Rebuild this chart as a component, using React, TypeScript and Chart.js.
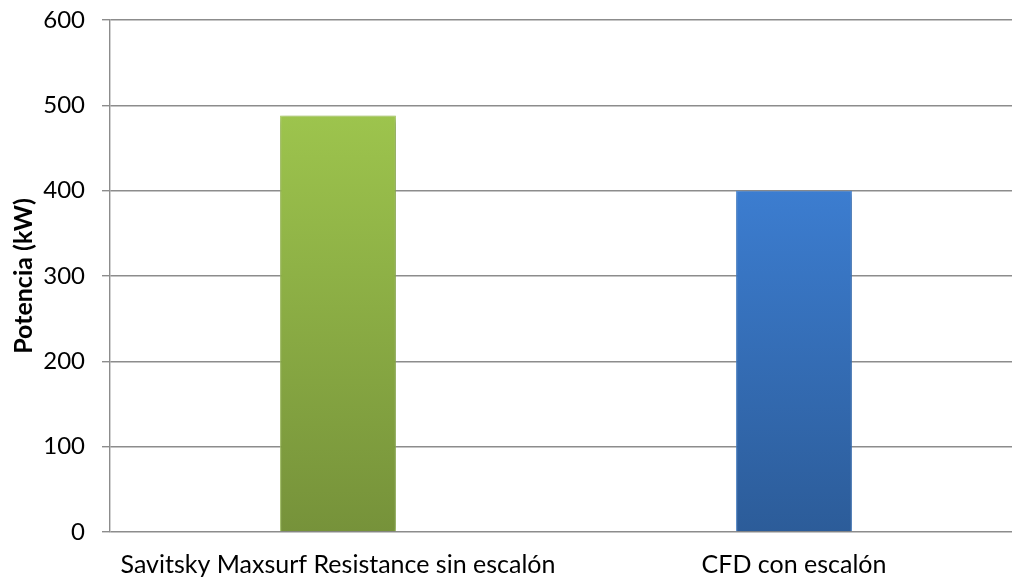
import React, { useEffect, useRef } from "react";
import { Chart, registerables } from "chart.js";

Chart.register(...registerables);

const categories = ["Savitsky Maxsurf Resistance sin escalón", "CFD con escalón"];
const values = [488, 400];
const yTicks = [0, 100, 200, 300, 400, 500, 600];
const topColors = ["#9dc44d", "#3c7dd0"];
const bottomColors = ["#76923a", "#2c5c99"];
const edgeColors = ["#abd062", "#4c8cdc"];

const shadowPlugin = {
  id: "barShadow",
  beforeDatasetsDraw(chart: any) {
    const ctx = chart.ctx;
    ctx.save();
    ctx.shadowColor = "rgba(0,0,0,0.35)";
    ctx.shadowBlur = 7;
    ctx.shadowOffsetX = 1;
    ctx.shadowOffsetY = 2;
  },
  afterDatasetsDraw(chart: any) {
    chart.ctx.restore();
  },
};

export default function App() {
  const ref = useRef<HTMLCanvasElement>(null);
  useEffect(() => {
    const canvas = ref.current!;
    const chart = new Chart(canvas, {
      type: "bar",
      data: {
        labels: categories,
        datasets: [
          {
            data: values,
            backgroundColor: (c: any) => {
              const ch = c.chart;
              const i = c.dataIndex;
              const ys = ch.scales?.y;
              if (!ch.chartArea || !ys || i === undefined) return topColors[i ?? 0];
              const top = ys.getPixelForValue(values[i]);
              const bot = ys.getPixelForValue(0);
              const g = ch.ctx.createLinearGradient(0, top, 0, bot);
              g.addColorStop(0, topColors[i]);
              g.addColorStop(1, bottomColors[i]);
              return g;
            },
            borderColor: edgeColors,
            borderWidth: 1,
            borderSkipped: "bottom",
            categoryPercentage: 1,
            barPercentage: 0.254,
          },
        ],
      },
      options: {
        responsive: true,
        maintainAspectRatio: false,
        animation: false,
        layout: { padding: { top: 20, left: 0, right: 0, bottom: 0 } },
        plugins: { legend: { display: false }, tooltip: { enabled: false } },
        scales: {
          x: {
            grid: { display: false, drawTicks: false },
            border: { display: false },
            ticks: {
              color: "#000",
              font: { family: "Lato", size: 25 },
              padding: 18,
              maxRotation: 0,
            },
            afterFit: (s: any) => {
              s.height = 53;
              s.paddingLeft = 0;
              s.paddingRight = 0;
            },
          },
          y: {
            min: 0,
            max: 600,
            afterBuildTicks: (s: any) => {
              s.ticks = yTicks.map((v) => ({ value: v }));
            },
            grid: {
              color: "#8c8c8c",
              lineWidth: 1.4,
              tickLength: 8,
              drawTicks: true,
            },
            border: { display: true, color: "#8c8c8c", width: 1.4 },
            ticks: {
              color: "#000",
              font: { family: "Lato", size: 24 },
              padding: 17,
            },
            title: {
              display: true,
              text: "Potencia (kW)",
              color: "#000",
              font: { family: "Lato", size: 25, weight: "bold" },
              padding: { top: 9, bottom: 0 },
            },
            afterFit: (s: any) => {
              s.width = 110;
              s.paddingTop = 0;
              s.paddingBottom = 0;
            },
          },
        },
      },
      plugins: [shadowPlugin],
    } as any);
    return () => chart.destroy();
  }, []);
  return (
    <div style={{ position: "fixed", left: 0, top: 0, width: 1022, height: 585 }}>
      <canvas ref={ref} />
    </div>
  );
}
